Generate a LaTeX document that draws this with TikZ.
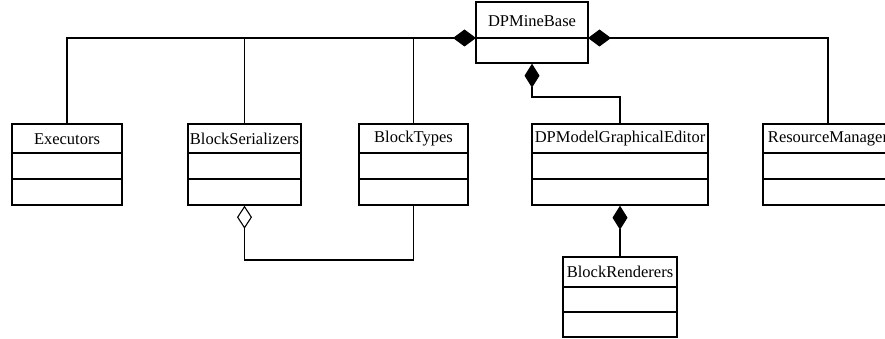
\documentclass[tikz,border=0pt]{standalone}
\usepackage{fontspec}
\setmainfont{Liberation Serif}
\usetikzlibrary{arrows.meta}
\begin{document}
\begin{tikzpicture}[x=1pt,y=-1pt,
  cls/.style={draw, line width=1.4pt, inner sep=0pt},
  lbl/.style={font=\fontsize{16.5}{19}\selectfont, inner sep=0pt},
  divl/.style={line width=1.3pt},
  conn/.style={line width=1.1pt},
  comp/.style={conn, -{Diamond[length=23pt,width=17pt]}},
  compv/.style={conn, -{Diamond[length=24pt,width=15pt]}},
  agg/.style={conn, -{Diamond[open,length=23pt,width=15pt]}}]
\useasboundingbox (0,0) rectangle (885,339);
\clip (0,0) rectangle (885,339);

% DPMineBase
\node[cls, minimum width=112pt, minimum height=61pt] (dpm) at (532,32.5) {};
\node[lbl] (dpmT) at (532,21) {DPMineBase};
\draw[divl] (476,38) -- (588,38);
\coordinate (dpmL) at (476,38);
\coordinate (dpmR) at (588,38);

% Executors
\node[cls, minimum width=110pt, minimum height=81pt] (exe) at (67,164.5) {};
\node[lbl] (exeT) at (67,139) {Executors};
\draw[divl] (12,153) -- (122,153);
\draw[divl] (12,179) -- (122,179);

% BlockSerializers
\node[cls, minimum width=113pt, minimum height=81pt] (bs) at (244.5,164.5) {};
\node[lbl] (bsT) at (244.5,139) {BlockSerializers};
\draw[divl] (188,153) -- (301,153);
\draw[divl] (188,179) -- (301,179);

% BlockTypes
\node[cls, minimum width=109pt, minimum height=81pt] (bt) at (413.5,164.5) {};
\node[lbl] (btT) at (413.5,139) {BlockTypes};
\draw[divl] (359,153) -- (468,153);
\draw[divl] (359,179) -- (468,179);

% DPModelGraphicalEditor
\node[cls, minimum width=176pt, minimum height=81pt] (dge) at (620,164.5) {};
\node[lbl] (dgeT) at (620,139) {DPModelGraphicalEditor};
\draw[divl] (532,153) -- (708,153);
\draw[divl] (532,179) -- (708,179);

% ResourceManager
\node[cls, minimum width=130pt, minimum height=81pt] (rm) at (828,164.5) {};
\node[lbl] (rmT) at (828,139) {ResourceManager};
\draw[divl] (763,153) -- (893,153);
\draw[divl] (763,179) -- (893,179);

% BlockRenderers
\node[cls, minimum width=114pt, minimum height=80pt] (br) at (620,297) {};
\node[lbl] (brT) at (620,272) {BlockRenderers};
\draw[divl] (563,287) -- (677,287);
\draw[divl] (563,312) -- (677,312);

% connectors
\draw[comp] (exe.north) |- (dpmL);
\draw[conn] (bs.north) -- (bs.north |- dpmL);
\draw[conn] (bt.north) -- (bt.north |- dpmL);
\draw[comp] (rm.north) |- (dpmR);
\coordinate (j1) at (532,97);
\draw[compv] (dge.north) |- (j1) -- (dpm.south);
\coordinate (j2) at (244.5,260);
\draw[agg] (bt.south) |- (j2) -- (bs.south);
\draw[compv] (br.north) -- (dge.south);
\end{tikzpicture}
\end{document}
